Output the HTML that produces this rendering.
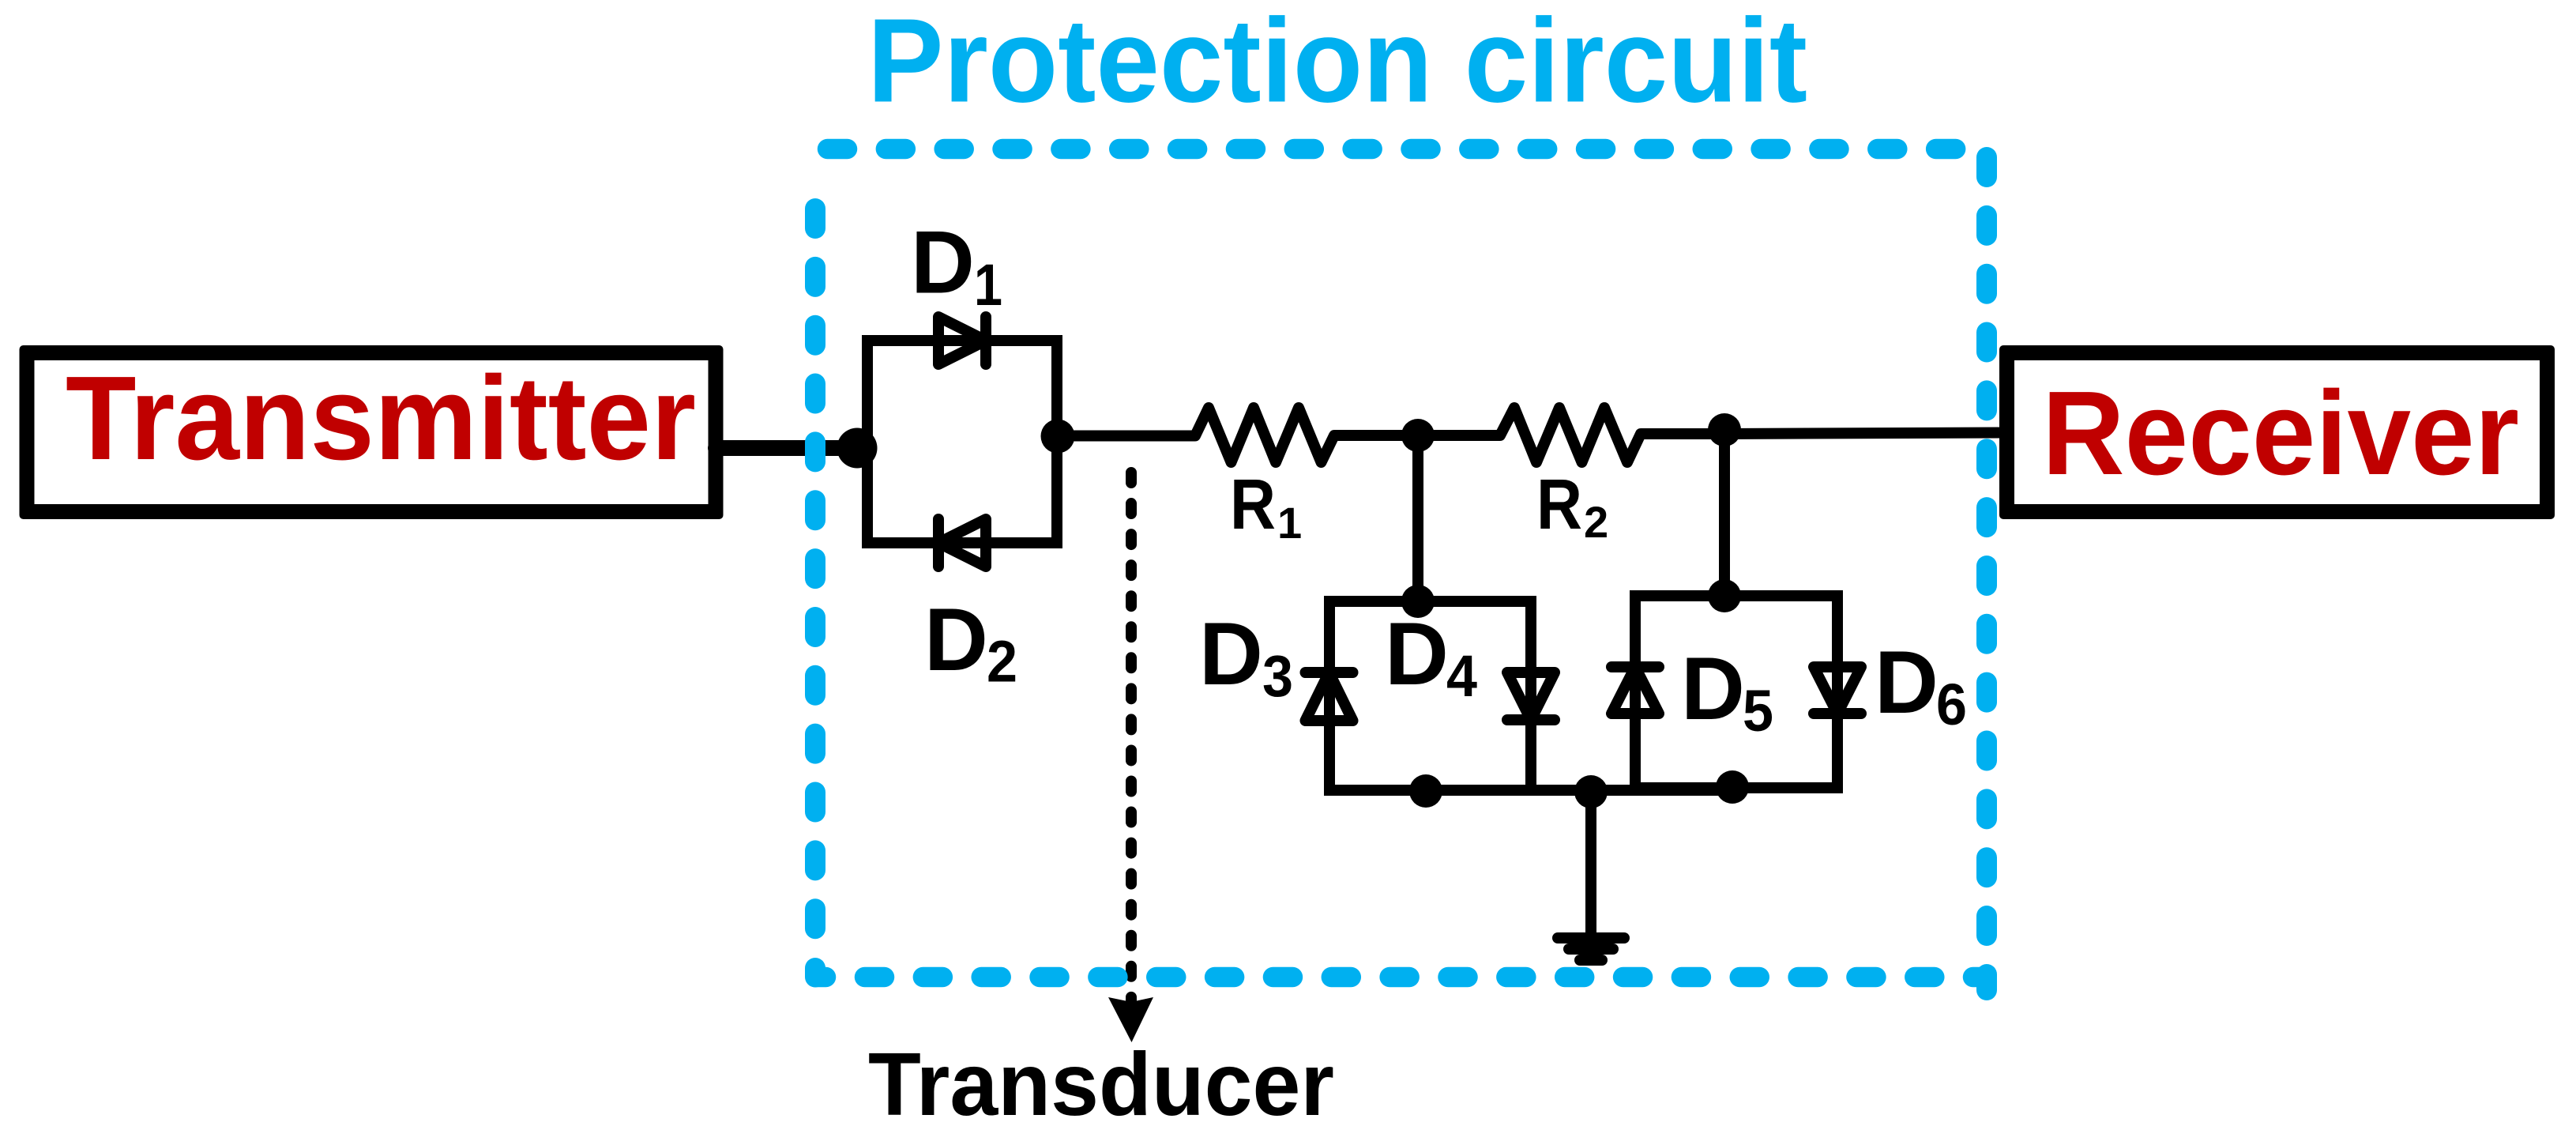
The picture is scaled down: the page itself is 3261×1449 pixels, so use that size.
<!DOCTYPE html>
<html><head><meta charset="utf-8"><style>
html,body{margin:0;padding:0;background:#fff}
svg{display:block}
text{font-family:"Liberation Sans",sans-serif;font-weight:bold}
</style></head><body>
<svg xmlns="http://www.w3.org/2000/svg" width="3261" height="1449" viewBox="0 0 3261 1449">
<rect width="3261" height="1449" fill="#fff"/>
<!-- boxes -->
<rect x="24.5" y="437" width="891" height="220" rx="5" fill="#000"/>
<rect x="43.5" y="456" width="853" height="182" fill="#fff"/>
<rect x="2531" y="437" width="703" height="220" rx="5" fill="#000"/>
<rect x="2550" y="456" width="665" height="182" fill="#fff"/>
<!-- wires -->
<g fill="none" stroke="#000" stroke-width="14" stroke-linejoin="round" stroke-linecap="butt">
<line x1="906" y1="567" x2="1085" y2="567" stroke-width="20" stroke-linecap="round"/>
<rect x="1098" y="431" width="240" height="256" stroke-linejoin="miter"/>
<path d="M1339 551.5H1513L1530 516L1558.5 585L1587 516L1615 585L1644 516L1672.5 585L1689 551H1795H1899L1917 516L1945 585L1974 516L2002.5 585L2031 516L2060 585L2077 549H2183L2531 547.5"/>
<line x1="1795" y1="551" x2="1795" y2="761"/>
<line x1="2183" y1="544" x2="2183" y2="754"/>
<path d="M1683 851V761H1938V851M1938 911V1000H1683V912" stroke-linejoin="miter"/>
<path d="M2070 844V754H2326V844M2326 903V997H2070V903" stroke-linejoin="miter"/>
<line x1="1930" y1="1000" x2="2193" y2="1000"/>
<line x1="2070" y1="997" x2="2326" y2="997"/>
<line x1="2014" y1="1002" x2="2014" y2="1187"/>
<!-- vertical wire through diodes -->
<line x1="1683" y1="851" x2="1683" y2="912"/>
<line x1="1938" y1="851" x2="1938" y2="911"/>
<line x1="2070" y1="844" x2="2070" y2="903"/>
<line x1="2326" y1="844" x2="2326" y2="903"/>
<!-- D1 -->
<path d="M1188 401V461L1248 431Z"/><line x1="1248" y1="401" x2="1248" y2="461" stroke-linecap="round"/>
<!-- D2 -->
<path d="M1248 657V717L1188 687Z"/><line x1="1188" y1="657" x2="1188" y2="717" stroke-linecap="round"/>
<!-- D3 -->
<path d="M1652.5 912H1712.5L1682.5 851Z"/><line x1="1652.5" y1="851" x2="1712.5" y2="851" stroke-linecap="round"/>
<!-- D4 -->
<path d="M1908 851H1968L1938 911Z"/><line x1="1908" y1="911" x2="1968" y2="911" stroke-linecap="round"/>
<!-- D5 -->
<path d="M2040 903H2100L2070 844Z"/><line x1="2040" y1="844" x2="2100" y2="844" stroke-linecap="round"/>
<!-- D6 -->
<path d="M2296 844H2356L2326 903Z"/><line x1="2296" y1="903" x2="2356" y2="903" stroke-linecap="round"/>
<!-- ground -->
<g stroke-linecap="round">
<line x1="1972" y1="1187" x2="2056" y2="1187"/>
<line x1="1986" y1="1201" x2="2042" y2="1201"/>
<line x1="2000" y1="1215" x2="2028" y2="1215"/>
</g>
<!-- transducer dashed -->
<line x1="1432" y1="598" x2="1432" y2="1275" stroke-linecap="round" stroke-dasharray="13 26.05"/>
</g>
<polygon points="1403,1262 1432,1268 1460,1262 1432.5,1319" fill="#000"/>
<!-- dots -->
<g fill="#000">
<circle cx="1085" cy="567" r="25.5"/>
<circle cx="1339" cy="552" r="21.5"/>
<circle cx="1795" cy="551" r="21"/>
<circle cx="2183" cy="544" r="21"/>
<circle cx="1795" cy="761" r="21"/>
<circle cx="2183" cy="754" r="21"/>
<circle cx="1805" cy="1001" r="21"/>
<circle cx="2014" cy="1002" r="21"/>
<circle cx="2193" cy="996" r="21"/>
</g>
<!-- cyan dashed border -->
<g fill="none" stroke="#00B0F0" stroke-linecap="round" stroke-dasharray="25 48.85">
<line x1="1047.5" y1="188.5" x2="2480" y2="188.5" stroke-width="25.5"/>
<line x1="1094.5" y1="1236.5" x2="2480" y2="1236.5" stroke-width="25.5"/>
<line x1="1032" y1="264" x2="1032" y2="1210" stroke-width="26"/>
<line x1="2515" y1="199" x2="2515" y2="1200" stroke-width="26"/>
</g>
<g fill="none" stroke="#00B0F0" stroke-linecap="round">
<line x1="1032" y1="1225" x2="1032" y2="1236.5" stroke-width="26"/>
<line x1="1032" y1="1236.5" x2="1045.5" y2="1236.5" stroke-width="25.5"/>
<line x1="2497.5" y1="1236.5" x2="2515" y2="1236.5" stroke-width="25.5"/>
<line x1="2515" y1="1233" x2="2515" y2="1253" stroke-width="26"/>
</g>
<!-- big labels -->
<text x="1098" y="128.5" font-size="151" fill="#00B0F0" textLength="1190" lengthAdjust="spacingAndGlyphs">Protection circuit</text>
<text x="83" y="581" font-size="151" fill="#C00000" textLength="798" lengthAdjust="spacingAndGlyphs">Transmitter</text>
<text x="2585" y="600" font-size="151" fill="#C00000" textLength="604" lengthAdjust="spacingAndGlyphs">Receiver</text>
<text x="1099" y="1411" font-size="113" fill="#000" textLength="590" lengthAdjust="spacingAndGlyphs">Transducer</text>
<!-- component labels -->
<g fill="#000">
<text x="1153" y="370.5" font-size="112">D</text><text x="1233" y="386" font-size="74" textLength="36" lengthAdjust="spacingAndGlyphs">1</text>
<text x="1170" y="848" font-size="112">D</text><text x="1249" y="862.5" font-size="74" textLength="39" lengthAdjust="spacingAndGlyphs">2</text>
<text x="1518" y="866" font-size="112">D</text><text x="1598" y="881" font-size="74" textLength="39" lengthAdjust="spacingAndGlyphs">3</text>
<text x="1753" y="866" font-size="112">D</text><text x="1831" y="881" font-size="74" textLength="39" lengthAdjust="spacingAndGlyphs">4</text>
<text x="2128" y="910" font-size="112">D</text><text x="2206" y="925" font-size="74" textLength="39" lengthAdjust="spacingAndGlyphs">5</text>
<text x="2373" y="902" font-size="112">D</text><text x="2451" y="917" font-size="74" textLength="39" lengthAdjust="spacingAndGlyphs">6</text>
<text x="1557" y="669" font-size="90" textLength="58" lengthAdjust="spacingAndGlyphs">R</text><text x="1617" y="681" font-size="56">1</text>
<text x="1945" y="669" font-size="90" textLength="58" lengthAdjust="spacingAndGlyphs">R</text><text x="2005" y="680" font-size="56">2</text>
</g>
</svg>
</body></html>
